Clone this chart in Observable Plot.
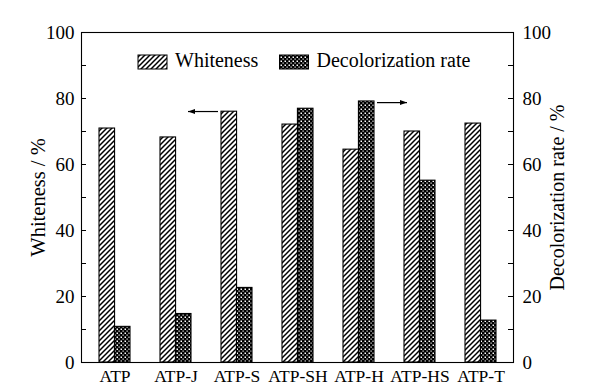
<!DOCTYPE html>
<html>
<head>
<meta charset="utf-8">
<script src="https://cdn.jsdelivr.net/npm/d3@7"></script>
<script src="https://cdn.jsdelivr.net/npm/@observablehq/plot@0.6"></script>
<style>
  html, body { margin: 0; padding: 0; background: #fff; }
  #chart svg, #chart svg text { font-family: "Liberation Serif", "Times New Roman", Times, serif !important; }
</style>
</head>
<body>
<div id="chart"></div>
<script>
const categories = ["ATP", "ATP-J", "ATP-S", "ATP-SH", "ATP-H", "ATP-HS", "ATP-T"];
const whiteness = [70.9, 68.2, 76.0, 72.1, 64.5, 70.0, 72.4];
const decolorization = [10.8, 14.7, 22.6, 76.9, 79.1, 55.1, 12.7];
const seriesNames = ["Whiteness", "Decolorization rate"];
const yTicks = [0, 20, 40, 60, 80, 100];
const yMinorTicks = [10, 30, 50, 70, 90];
const leftTitle = "Whiteness / %";
const rightTitle = "Decolorization rate / %";
// arrows: category, value, direction
const arrowCats = ["ATP-S", "ATP-H"];
const arrowVals = [75.9, 78.6];
const arrowDirs = [-1, 1];

const W = 589, H = 389;
const mL = 81, mR = 76, mT = 32, mB = 27;
const frameW = W - mL - mR;
const tickLen = 5;
const FONT = '"Liberation Serif", "Times New Roman", Times, serif';

const rows = categories.map((c, i) => ({cat: c, w: whiteness[i], d: decolorization[i]}));
const allTicks = yTicks.concat(yMinorTicks);

const plot = Plot.plot({
  width: W, height: H,
  marginLeft: mL, marginRight: mR, marginTop: mT, marginBottom: mB,
  style: {fontFamily: FONT, background: "#fff", color: "black"},
  x: {type: "band", domain: categories, paddingInner: 0.5, paddingOuter: 0.25, label: null},
  y: {domain: [0, 100], label: null},
  marks: [
    Plot.barY(rows, {x: "cat", y: "w", fill: "url(#hatch)", stroke: "black", strokeWidth: 1.1, insetRight: 15.43, insetLeft: 0}),
    Plot.barY(rows, {x: "cat", y: "d", fill: "url(#dots)", stroke: "black", strokeWidth: 1.1, insetLeft: 15.43, insetRight: 0}),
    Plot.tickY(allTicks, {y: d => d, stroke: "black", insetRight: frameW - tickLen}),
    Plot.tickY(allTicks, {y: d => d, stroke: "black", insetLeft: frameW - tickLen}),
    Plot.frame({stroke: "black", strokeWidth: 1.1}),
    Plot.axisY({anchor: "left", ticks: yTicks, tickSize: 0, tickPadding: 7, fontSize: 19, label: null}),
    Plot.axisY({anchor: "right", ticks: yTicks, tickSize: 0, tickPadding: 9, fontSize: 19, label: null}),
    Plot.axisX({anchor: "bottom", tickSize: 0, tickPadding: 7, fontSize: 17.5, label: null}),
    Plot.text([leftTitle], {text: d => d, frameAnchor: "left", textAnchor: "middle", dx: -43, rotate: -90, fontSize: 20.5}),
    Plot.text([rightTitle], {text: d => d, frameAnchor: "right", textAnchor: "middle", dx: 44, rotate: -90, fontSize: 20})
  ]
});

const svg = d3.select(plot);
const defs = svg.insert("defs", ":first-child");
const hatch = defs.append("pattern").attr("id", "hatch").attr("patternUnits", "userSpaceOnUse")
  .attr("width", 5).attr("height", 5);
hatch.append("rect").attr("width", 5).attr("height", 5).attr("fill", "white");
hatch.append("path").attr("d", "M-1,1 L1,-1 M0,5 L5,0 M4,6 L6,4").attr("stroke", "black").attr("stroke-width", 1.5);
const dots = defs.append("pattern").attr("id", "dots").attr("patternUnits", "userSpaceOnUse")
  .attr("width", 4).attr("height", 4);
dots.append("rect").attr("width", 4).attr("height", 4).attr("fill", "black");
dots.append("rect").attr("x", 0.5).attr("y", 0.5).attr("width", 1.5).attr("height", 1.5).attr("fill", "white");
dots.append("rect").attr("x", 2.5).attr("y", 2.5).attr("width", 1.2).attr("height", 1.2).attr("fill", "white");

// legend
const leg = svg.append("g").attr("font-size", 20).attr("fill", "black").attr("text-anchor", "start");
const legItems = [
  {x: 138, fill: "url(#hatch)", label: seriesNames[0]},
  {x: 279.5, fill: "url(#dots)", label: seriesNames[1]}
];
legItems.forEach(it => {
  leg.append("rect").attr("x", it.x).attr("y", 55).attr("width", 29).attr("height", 14)
    .attr("fill", it.fill).attr("stroke", "black").attr("stroke-width", 1);
  leg.append("text").attr("x", it.x + 37).attr("y", 67).attr("text-anchor", "start").text(it.label);
});

// arrows
const xs = plot.scale("x"), ys = plot.scale("y");
const bw = xs.bandwidth;
arrowCats.forEach((c, i) => {
  const y = ys.apply(arrowVals[i]);
  const x0 = xs.apply(c);
  let start, end;
  if (arrowDirs[i] < 0) { start = x0 - 3; end = start - 30; }
  else { start = x0 + bw + 3; end = start + 30; }
  const g = svg.append("g");
  g.append("line").attr("x1", start).attr("x2", end).attr("y1", y).attr("y2", y).attr("stroke", "black").attr("stroke-width", 1.2);
  const dir = arrowDirs[i];
  g.append("path").attr("d", `M${end},${y} L${end - dir * 7},${y - 2.5} L${end - dir * 7},${y + 2.5} Z`).attr("fill", "black");
});

svg.selectAll("text").attr("font-family", FONT).style("font-family", FONT);

document.getElementById("chart").appendChild(plot);
</script>
</body>
</html>
